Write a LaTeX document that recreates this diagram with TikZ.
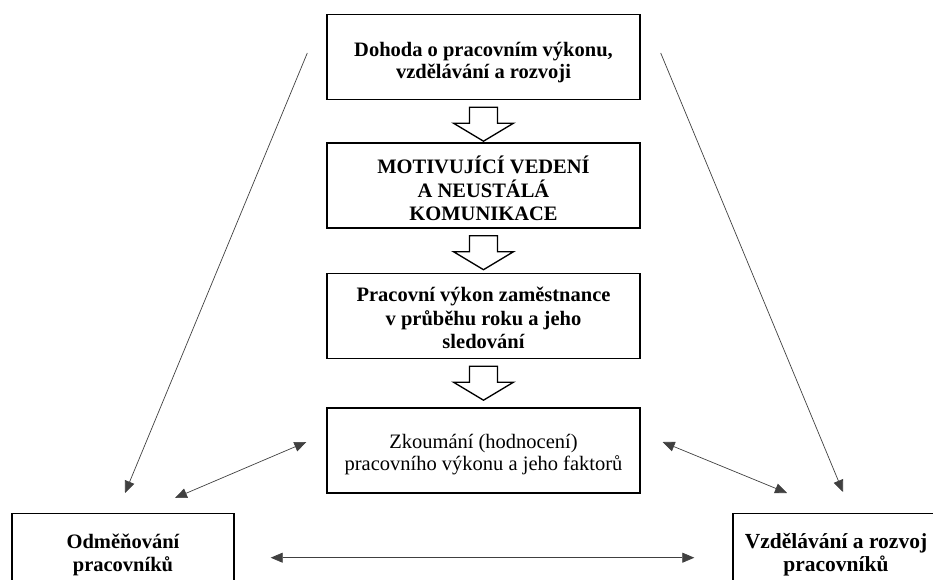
\documentclass[tikz,border=0pt]{standalone}
\usepackage{fontspec}
\setmainfont{Liberation Serif}
\usetikzlibrary{arrows.meta}

% hollow block arrow under a box
\newcommand{\hollowdown}[1]{\draw[hollow] ([xshift=-14pt,yshift=-7pt]#1.south) -- ++(28,0) -- ++(0,-16) -- ++(16,0) -- ++(-30,-18) -- ++(-30,18) -- ++(16,0) -- cycle;}

\begin{document}
\begin{tikzpicture}[x=1pt, y=1pt, >={Triangle[length=12pt,width=10pt]},
  box/.style={draw, line width=1.4pt, minimum width=313pt, minimum height=85pt},
  sidebox/.style={box, anchor=north, minimum height=74pt},
  boldtext/.style={align=center, font=\fontsize{20.5}{23.5}\selectfont\bfseries},
  plaintext/.style={align=center, font=\fontsize{20.5}{21.5}\selectfont},
  hollow/.style={draw, line width=1.3pt, fill=white},
  link/.style={->, line width=0.7pt, color=black!75}]

\useasboundingbox (0,0) rectangle (933,579);
\clip (0,0) rectangle (933,579);

% Draw the central column
\node[box, label={[boldtext, font=\fontsize{20.5}{22}\selectfont\bfseries, yshift=-6pt]center:{Dohoda o pracovním výkonu,\\ vzdělávání a rozvoji}}] (dohoda) at (483.5,522) {};
\node[box, label={[boldtext, yshift=-3pt]center:{MOTIVUJÍCÍ VEDENÍ\\ A NEUSTÁLÁ\\ KOMUNIKACE}}] (vedeni) at (483.5,393.5) {};
\node[box, label={[boldtext, yshift=-2pt]center:{Pracovní výkon zaměstnance\\ v průběhu roku a jeho\\ sledování}}] (vykon) at (483.5,263) {};
\node[box, label={[plaintext, yshift=-4pt]center:{Zkoumání (hodnocení)\\ pracovního výkonu a jeho faktorů}}] (zkoum) at (483.5,128.5) {};

\hollowdown{dohoda}
\hollowdown{vedeni}
\hollowdown{vykon}

% the two boxes at the bottom
\node[sidebox, minimum width=222pt, label={[boldtext, yshift=-4pt]center:{Odměňování\\ pracovníků}}] (odm) at (123,66) {};
\node[sidebox, minimum width=206pt, label={[boldtext, font=\fontsize{21.5}{23.5}\selectfont\bfseries, yshift=-4pt]center:{Vzdělávání a rozvoj\\ pracovníků}}] (vzd) at (836,66) {};

% connectors
\coordinate (ltop) at ([shift={(-19,4)}]dohoda.west);
\coordinate (lbot) at ([shift={(2,20)}]odm.north);
\coordinate (rtop) at ([shift={(20,4)}]dohoda.east);
\coordinate (rbot) at ([shift={(7,21)}]vzd.north);
\draw[link] (ltop) -- (lbot);
\draw[link] (rtop) -- (rbot);

\coordinate (zl) at ([shift={(-20,8.5)}]zkoum.west);
\coordinate (ol) at ([shift={(52,15)}]odm.north);
\coordinate (zr) at ([shift={(22,8.5)}]zkoum.east);
\coordinate (vr) at ([shift={(-49,20)}]vzd.north);
\draw[link, <->] (zl) -- (ol);
\draw[link, <->] (zr) -- (vr);

\coordinate (oe) at ([shift={(36,-7)}]odm.east);
\coordinate (vw) at ([shift={(-38,-7)}]vzd.west);
\draw[link, <->] (oe) -- (vw);
\end{tikzpicture}
\end{document}
